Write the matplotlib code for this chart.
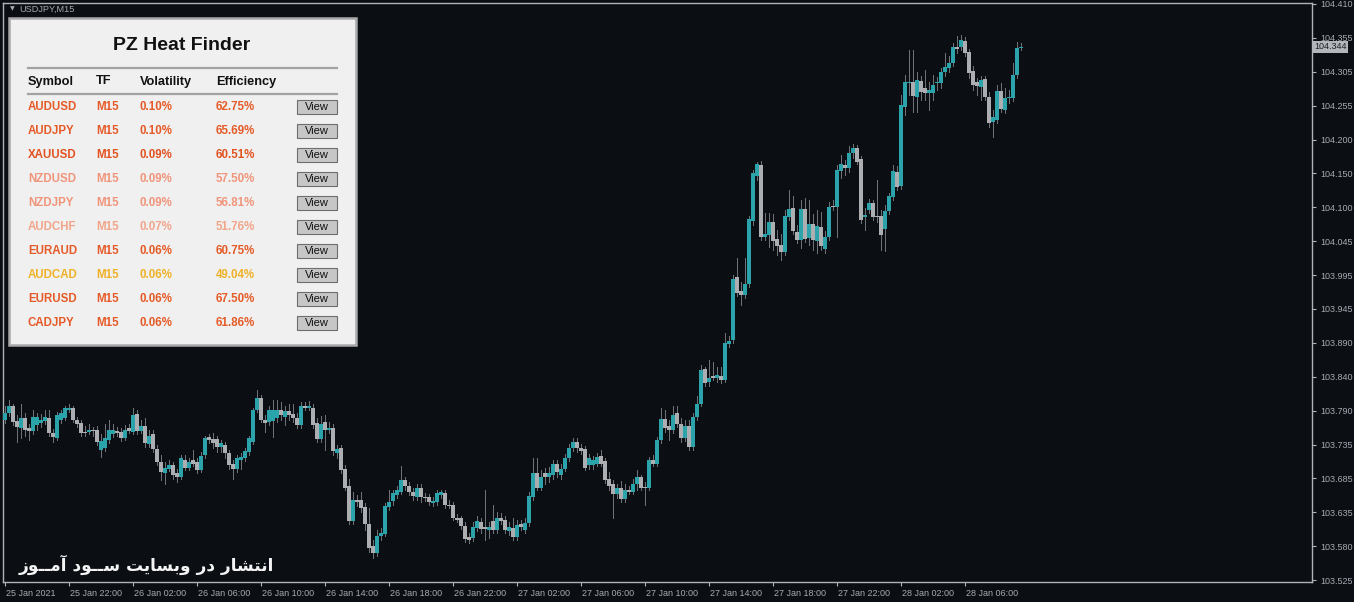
import numpy as np
import matplotlib
matplotlib.use('Agg')
import matplotlib.pyplot as plt
from matplotlib.patches import Rectangle
from matplotlib.transforms import ScaledTranslation

plt.rcParams['font.family'] = ['Liberation Sans', 'DejaVu Sans']

# USDJPY M15 candles, 25 Jan 2021 18:00 onwards
opens = [
    103.771, 103.781, 103.792, 103.769, 103.758, 103.774, 103.758, 103.754, 103.763, 103.766,
    103.769, 103.774, 103.751, 103.743, 103.771, 103.774, 103.787, 103.789, 103.771, 103.766,
    103.752, 103.752, 103.755, 103.755, 103.725, 103.728, 103.740, 103.749, 103.754, 103.752,
    103.743, 103.758, 103.752, 103.780, 103.754, 103.762, 103.734, 103.749, 103.726, 103.706,
    103.689, 103.695, 103.701, 103.689, 103.684, 103.710, 103.697, 103.709, 103.706, 103.694,
    103.717, 103.744, 103.741, 103.741, 103.729, 103.732, 103.720, 103.703, 103.695, 103.709,
    103.712, 103.721, 103.737, 103.786, 103.804, 103.771, 103.768, 103.769, 103.774, 103.787,
    103.775, 103.784, 103.780, 103.774, 103.763, 103.792, 103.790, 103.790, 103.766, 103.741,
    103.768, 103.755, 103.758, 103.720, 103.728, 103.695, 103.670, 103.615, 103.648, 103.648,
    103.637, 103.611, 103.577, 103.566, 103.592, 103.595, 103.637, 103.646, 103.655, 103.661,
    103.678, 103.669, 103.661, 103.652, 103.667, 103.652, 103.652, 103.643, 103.645, 103.655,
    103.658, 103.640, 103.640, 103.621, 103.620, 103.608, 103.591, 103.589, 103.605, 103.614,
    103.606, 103.602, 103.615, 103.602, 103.620, 103.617, 103.600, 103.605, 103.591, 103.611,
    103.602, 103.612, 103.652, 103.689, 103.667, 103.689, 103.684, 103.687, 103.703, 103.687,
    103.695, 103.712, 103.728, 103.737, 103.728, 103.726, 103.701, 103.701, 103.704, 103.715,
    103.708, 103.680, 103.672, 103.657, 103.667, 103.649, 103.664, 103.661, 103.672, 103.683,
    103.667, 103.666, 103.709, 103.704, 103.740, 103.772, 103.762, 103.755, 103.781, 103.765,
    103.743, 103.762, 103.729, 103.775, 103.796, 103.849, 103.829, 103.838, 103.835, 103.838,
    103.833, 103.887, 103.894, 103.990, 103.969, 103.963, 103.980, 104.076, 104.146, 104.162,
    104.052, 104.055, 104.075, 104.049, 104.040, 104.029, 104.083, 104.097, 104.060, 104.047,
    104.095, 104.050, 104.072, 104.046, 104.067, 104.033, 104.052, 104.100, 104.098, 104.153,
    104.162, 104.158, 104.181, 104.189, 104.172, 104.083, 104.093, 104.104, 104.084, 104.084,
    104.064, 104.092, 104.113, 104.152, 104.130, 104.252, 104.288, 104.290, 104.267, 104.292,
    104.281, 104.273, 104.273, 104.288, 104.288, 104.305, 104.311, 104.319, 104.344, 104.344,
    104.353, 104.336, 104.307, 104.290, 104.282, 104.295, 104.267, 104.229, 104.232, 104.276,
    104.247, 104.265, 104.265, 104.301, 104.342,
]
highs = [
    103.793, 103.801, 103.796, 103.778, 103.796, 103.781, 103.765, 103.786, 103.781, 103.780,
    103.786, 103.786, 103.757, 103.783, 103.787, 103.793, 103.795, 103.793, 103.775, 103.771,
    103.762, 103.765, 103.760, 103.762, 103.749, 103.765, 103.771, 103.765, 103.760, 103.758,
    103.763, 103.765, 103.789, 103.786, 103.771, 103.774, 103.755, 103.755, 103.732, 103.717,
    103.706, 103.709, 103.706, 103.695, 103.717, 103.717, 103.712, 103.725, 103.712, 103.721,
    103.746, 103.749, 103.751, 103.746, 103.740, 103.737, 103.725, 103.709, 103.717, 103.720,
    103.728, 103.747, 103.789, 103.817, 103.809, 103.778, 103.793, 103.801, 103.801, 103.798,
    103.793, 103.796, 103.795, 103.781, 103.798, 103.798, 103.800, 103.796, 103.774, 103.777,
    103.778, 103.768, 103.765, 103.732, 103.732, 103.701, 103.681, 103.660, 103.655, 103.660,
    103.643, 103.635, 103.586, 103.602, 103.605, 103.643, 103.663, 103.663, 103.669, 103.700,
    103.683, 103.675, 103.667, 103.672, 103.672, 103.658, 103.657, 103.652, 103.664, 103.664,
    103.663, 103.648, 103.645, 103.626, 103.624, 103.614, 103.598, 103.614, 103.623, 103.620,
    103.664, 103.614, 103.640, 103.629, 103.628, 103.623, 103.614, 103.620, 103.617, 103.617,
    103.620, 103.660, 103.712, 103.712, 103.694, 103.697, 103.698, 103.709, 103.709, 103.703,
    103.718, 103.734, 103.743, 103.743, 103.734, 103.731, 103.718, 103.715, 103.720, 103.725,
    103.712, 103.691, 103.678, 103.672, 103.677, 103.672, 103.670, 103.681, 103.694, 103.687,
    103.675, 103.714, 103.717, 103.744, 103.789, 103.786, 103.771, 103.793, 103.793, 103.774,
    103.771, 103.771, 103.781, 103.807, 103.855, 103.853, 103.863, 103.860, 103.852, 103.852,
    103.904, 103.900, 103.993, 104.019, 103.983, 104.019, 104.084, 104.155, 104.167, 104.169,
    104.089, 104.089, 104.087, 104.063, 104.057, 104.093, 104.124, 104.115, 104.070, 104.109,
    104.112, 104.109, 104.087, 104.093, 104.090, 104.061, 104.106, 104.109, 104.162, 104.178,
    104.170, 104.192, 104.195, 104.193, 104.176, 104.097, 104.110, 104.109, 104.139, 104.093,
    104.101, 104.119, 104.162, 104.161, 104.270, 104.301, 104.339, 104.339, 104.305, 104.299,
    104.308, 104.290, 104.301, 104.298, 104.311, 104.335, 104.330, 104.350, 104.361, 104.362,
    104.359, 104.341, 104.315, 104.296, 104.299, 104.299, 104.275, 104.247, 104.285, 104.288,
    104.281, 104.278, 104.319, 104.351, 104.350,
]
lows = [
    103.766, 103.777, 103.763, 103.737, 103.743, 103.747, 103.740, 103.749, 103.755, 103.760,
    103.765, 103.746, 103.737, 103.740, 103.766, 103.771, 103.783, 103.768, 103.760, 103.747,
    103.746, 103.749, 103.747, 103.732, 103.714, 103.723, 103.735, 103.744, 103.746, 103.738,
    103.740, 103.751, 103.749, 103.749, 103.751, 103.729, 103.729, 103.721, 103.701, 103.678,
    103.672, 103.692, 103.681, 103.675, 103.680, 103.694, 103.694, 103.700, 103.689, 103.691,
    103.712, 103.735, 103.728, 103.721, 103.721, 103.712, 103.695, 103.681, 103.691, 103.695,
    103.708, 103.717, 103.734, 103.783, 103.768, 103.752, 103.763, 103.744, 103.768, 103.771,
    103.763, 103.771, 103.768, 103.758, 103.758, 103.786, 103.786, 103.758, 103.737, 103.737,
    103.725, 103.751, 103.717, 103.712, 103.689, 103.663, 103.611, 103.611, 103.638, 103.629,
    103.602, 103.568, 103.559, 103.562, 103.586, 103.592, 103.632, 103.641, 103.651, 103.657,
    103.664, 103.655, 103.648, 103.648, 103.645, 103.646, 103.640, 103.638, 103.640, 103.651,
    103.635, 103.635, 103.617, 103.614, 103.603, 103.583, 103.582, 103.585, 103.600, 103.598,
    103.586, 103.589, 103.597, 103.597, 103.611, 103.597, 103.594, 103.586, 103.586, 103.602,
    103.597, 103.608, 103.648, 103.663, 103.663, 103.672, 103.675, 103.681, 103.684, 103.681,
    103.692, 103.708, 103.723, 103.721, 103.718, 103.694, 103.695, 103.695, 103.700, 103.700,
    103.674, 103.664, 103.621, 103.651, 103.645, 103.645, 103.657, 103.657, 103.663, 103.663,
    103.640, 103.663, 103.700, 103.700, 103.735, 103.752, 103.740, 103.751, 103.760, 103.737,
    103.738, 103.725, 103.725, 103.771, 103.792, 103.823, 103.823, 103.832, 103.830, 103.827,
    103.830, 103.883, 103.889, 103.961, 103.947, 103.958, 103.975, 104.070, 104.139, 104.047,
    104.047, 104.036, 104.032, 104.024, 104.016, 104.024, 104.078, 104.057, 104.043, 104.035,
    104.044, 104.040, 104.032, 104.027, 104.032, 104.027, 104.047, 104.093, 104.052, 104.142,
    104.147, 104.152, 104.173, 104.164, 104.073, 104.063, 104.089, 104.078, 104.075, 104.032,
    104.030, 104.087, 104.109, 104.124, 104.126, 104.239, 104.270, 104.244, 104.244, 104.262,
    104.262, 104.247, 104.262, 104.278, 104.281, 104.299, 104.305, 104.315, 104.335, 104.339,
    104.330, 104.296, 104.278, 104.270, 104.262, 104.262, 104.221, 104.206, 104.227, 104.244,
    104.242, 104.258, 104.261, 104.296, 104.339,
]
closes = [
    103.781, 103.792, 103.768, 103.760, 103.774, 103.755, 103.754, 103.775, 103.775, 103.771,
    103.775, 103.751, 103.744, 103.778, 103.781, 103.789, 103.790, 103.771, 103.765, 103.751,
    103.751, 103.755, 103.754, 103.737, 103.738, 103.743, 103.755, 103.755, 103.751, 103.743,
    103.755, 103.754, 103.778, 103.754, 103.762, 103.735, 103.747, 103.726, 103.706, 103.691,
    103.697, 103.701, 103.686, 103.684, 103.712, 103.697, 103.706, 103.704, 103.694, 103.715,
    103.743, 103.740, 103.735, 103.729, 103.735, 103.720, 103.701, 103.695, 103.712, 103.714,
    103.723, 103.743, 103.786, 103.804, 103.771, 103.766, 103.786, 103.786, 103.787, 103.778,
    103.784, 103.778, 103.774, 103.763, 103.792, 103.790, 103.792, 103.763, 103.741, 103.765,
    103.755, 103.758, 103.723, 103.726, 103.694, 103.667, 103.615, 103.648, 103.645, 103.635,
    103.611, 103.575, 103.566, 103.592, 103.597, 103.638, 103.645, 103.658, 103.663, 103.678,
    103.669, 103.660, 103.654, 103.667, 103.652, 103.651, 103.645, 103.646, 103.658, 103.660,
    103.640, 103.638, 103.621, 103.618, 103.608, 103.588, 103.586, 103.606, 103.615, 103.603,
    103.603, 103.606, 103.602, 103.620, 103.615, 103.602, 103.606, 103.591, 103.609, 103.606,
    103.612, 103.654, 103.689, 103.667, 103.683, 103.683, 103.689, 103.703, 103.691, 103.695,
    103.712, 103.728, 103.737, 103.728, 103.723, 103.697, 103.712, 103.709, 103.714, 103.704,
    103.678, 103.670, 103.657, 103.666, 103.649, 103.663, 103.661, 103.672, 103.683, 103.667,
    103.666, 103.709, 103.704, 103.740, 103.772, 103.758, 103.755, 103.778, 103.765, 103.743,
    103.762, 103.729, 103.775, 103.796, 103.847, 103.827, 103.836, 103.836, 103.840, 103.833,
    103.889, 103.892, 103.987, 103.966, 103.963, 103.980, 104.079, 104.150, 104.164, 104.052,
    104.056, 104.075, 104.046, 104.038, 104.029, 104.084, 104.095, 104.061, 104.047, 104.095,
    104.049, 104.072, 104.047, 104.069, 104.038, 104.052, 104.098, 104.098, 104.155, 104.164,
    104.158, 104.181, 104.189, 104.167, 104.078, 104.086, 104.104, 104.083, 104.083, 104.055,
    104.092, 104.115, 104.153, 104.129, 104.255, 104.290, 104.290, 104.268, 104.293, 104.275,
    104.273, 104.278, 104.285, 104.290, 104.305, 104.313, 104.319, 104.344, 104.341, 104.355,
    104.335, 104.304, 104.285, 104.284, 104.293, 104.267, 104.227, 104.236, 104.276, 104.249,
    104.265, 104.267, 104.301, 104.342, 104.344,
]

x_labels = ['25 Jan 2021', '25 Jan 22:00', '26 Jan 02:00', '26 Jan 06:00', '26 Jan 10:00',
            '26 Jan 14:00', '26 Jan 18:00', '26 Jan 22:00', '27 Jan 02:00', '27 Jan 06:00',
            '27 Jan 10:00', '27 Jan 14:00', '27 Jan 18:00', '27 Jan 22:00', '28 Jan 02:00',
            '28 Jan 06:00']
y_labels = ['103.525', '103.580', '103.635', '103.685', '103.735', '103.790', '103.840',
            '103.890', '103.945', '103.995', '104.045', '104.100', '104.150', '104.200',
            '104.255', '104.305', '104.355', '104.410']
last_price = 104.344

# heat finder panel
symbols = ['AUDUSD', 'AUDJPY', 'XAUUSD', 'NZDUSD', 'NZDJPY', 'AUDCHF', 'EURAUD', 'AUDCAD', 'EURUSD', 'CADJPY']
timeframes = ['M15'] * 10
volatility = ['0.10%', '0.10%', '0.09%', '0.09%', '0.09%', '0.07%', '0.06%', '0.06%', '0.06%', '0.06%']
efficiency = ['62.75%', '65.69%', '60.51%', '57.50%', '56.81%', '51.76%', '60.75%', '49.04%', '67.50%', '61.86%']

watermark = 'انتشار در وبسایت ســود آمــوز'

# styling
BG = '#0b0e13'
TEAL = '#2ba3ab'
GREY = '#acaeb2'
WICK = '#6e7278'
AXIS = '#b0b4ba'
LABEL = '#a6aab2'
row_colors = ['#e55a26', '#e55a26', '#e2521f', '#f0947a', '#f0947a', '#f2a58a',
              '#e55a26', '#efb126', '#e55a26', '#e55a26']
BARS_PER_LABEL = 16

# minimal persian shaping (matplotlib has no bidi / joining support)
DUAL = set('بتسشمنیـ')
RIGHT = set('اآدرزو')
FORMS = {
    'ا': '\uFE8D\uFE8E', 'آ': '\uFE81\uFE82', 'د': '\uFEA9\uFEAA', 'ر': '\uFEAD\uFEAE',
    'ز': '\uFEAF\uFEB0', 'و': '\uFEED\uFEEE',
    'ب': '\uFE8F\uFE90\uFE91\uFE92', 'ت': '\uFE95\uFE96\uFE97\uFE98',
    'س': '\uFEB1\uFEB2\uFEB3\uFEB4', 'ش': '\uFEB5\uFEB6\uFEB7\uFEB8',
    'م': '\uFEE1\uFEE2\uFEE3\uFEE4', 'ن': '\uFEE5\uFEE6\uFEE7\uFEE8',
    'ی': '\uFBFC\uFBFD\uFBFE\uFBFF', 'ـ': '\u0640\u0640\u0640\u0640',
}


def shape_fa(text):
    out = []
    for i, c in enumerate(text):
        if c not in FORMS:
            out.append(c)
            continue
        joins_prev = i > 0 and text[i - 1] in DUAL
        joins_next = c in DUAL and i + 1 < len(text) and text[i + 1] in (DUAL | RIGHT)
        if joins_prev and joins_next:
            idx = 3
        elif joins_prev:
            idx = 1
        elif joins_next:
            idx = 2
        else:
            idx = 0
        out.append(FORMS[c][idx])
    return ''.join(reversed(out))


W, H = 1354, 602
fig = plt.figure(figsize=(W / 100, H / 100), dpi=100, facecolor=BG)
ax = fig.add_axes([3 / W, 1 - 582 / H, (1312 - 3) / W, (582 - 3) / H])
ax.set_facecolor(BG)

o = np.array(opens)
c = np.array(closes)
x = np.arange(len(c))
up = c >= o
ax.vlines(x, lows, highs, color=WICK, lw=0.72, zorder=2, antialiased=False)
bottom = np.minimum(o, c)
height = np.maximum(np.abs(c - o), 0.0014)
ax.bar(x[up], height[up], bottom=bottom[up], width=0.76, color=TEAL, lw=0, zorder=3, antialiased=False)
ax.bar(x[~up], height[~up], bottom=bottom[~up], width=0.76, color=GREY, lw=0, zorder=3, antialiased=False)

ax.set_xlim(-0.5, 326.75)
ax.set_ylim(103.522, 104.4115)

for s in ax.spines.values():
    s.set_color(AXIS)
    s.set_linewidth(1.0)

ax.yaxis.tick_right()
ax.set_yticks(np.linspace(103.525, 104.410, len(y_labels)))
ax.set_yticklabels(y_labels)
ax.set_xticks(np.arange(len(x_labels)) * BARS_PER_LABEL)
ax.set_xticklabels(x_labels)
ax.tick_params(axis='both', colors=AXIS, labelcolor=LABEL, labelsize=6.5, length=3, width=0.8)
ax.tick_params(axis='y', pad=3)
ax.tick_params(axis='x', pad=2)
shift = ScaledTranslation(1 / 100, 0, fig.dpi_scale_trans)
for lbl in ax.get_xticklabels():
    lbl.set_ha('left')
    lbl.set_transform(lbl.get_transform() + shift)

# current price tag
ax.text(1.0015, last_price, '104.344', transform=ax.get_yaxis_transform(), ha='left', va='center',
        fontsize=6.5, color='#1c1f24', zorder=10, clip_on=False,
        bbox=dict(boxstyle='square,pad=0.2', fc='#b3b7bc', ec='none'))

# overlay in pixel coordinates
ov = fig.add_axes([0, 0, 1, 1])
ov.set_xlim(0, W)
ov.set_ylim(H, 0)
ov.axis('off')
ov.patch.set_alpha(0)
ov.set_zorder(5)

ov.text(10, 9, '▼', fontsize=4.5, color=LABEL, ha='left', va='center', family=['DejaVu Sans'])
ov.text(19, 9.5, 'USDJPY,M15', fontsize=6.6, color=LABEL, ha='left', va='center')

ov.add_patch(Rectangle((9, 18), 347, 327, fc='#f0f0f0', ec='#a9a9a9', lw=1.8))
ov.text(182, 45, 'PZ Heat Finder', ha='center', va='center', fontsize=14, weight='bold', color='#111111')
ov.plot([28, 337], [68, 68], color='#a3a3a3', lw=1.6)
ov.plot([28, 337], [94, 94], color='#a3a3a3', lw=1.6)
cols = [28, 96, 140, 216]
for cx, head in zip(cols, ['Symbol', 'TF', 'Volatility', 'Efficiency']):
    ov.text(cx, 81.5, head, ha='left', va='center', fontsize=9.2, weight='bold', color='#111111')

for k in range(len(symbols)):
    ry = 107 + 24 * k
    for cx, val in zip(cols, [symbols[k], timeframes[k], volatility[k], efficiency[k]]):
        ov.text(cx, ry, val, ha='left', va='center', fontsize=8.3, weight='bold', color=row_colors[k])
    ov.add_patch(Rectangle((297, ry - 7), 40, 14, fc='#c6c6c6', ec='#6e6e6e', lw=0.8))
    ov.text(317, ry, 'View', ha='center', va='center', fontsize=8, color='#111111')

ov.text(19, 565, shape_fa(watermark), ha='left', va='center', fontsize=12.2, weight='bold',
        color='#f4f4f4', family=['DejaVu Sans'])

fig.savefig('out.png', dpi=100, facecolor=BG)
